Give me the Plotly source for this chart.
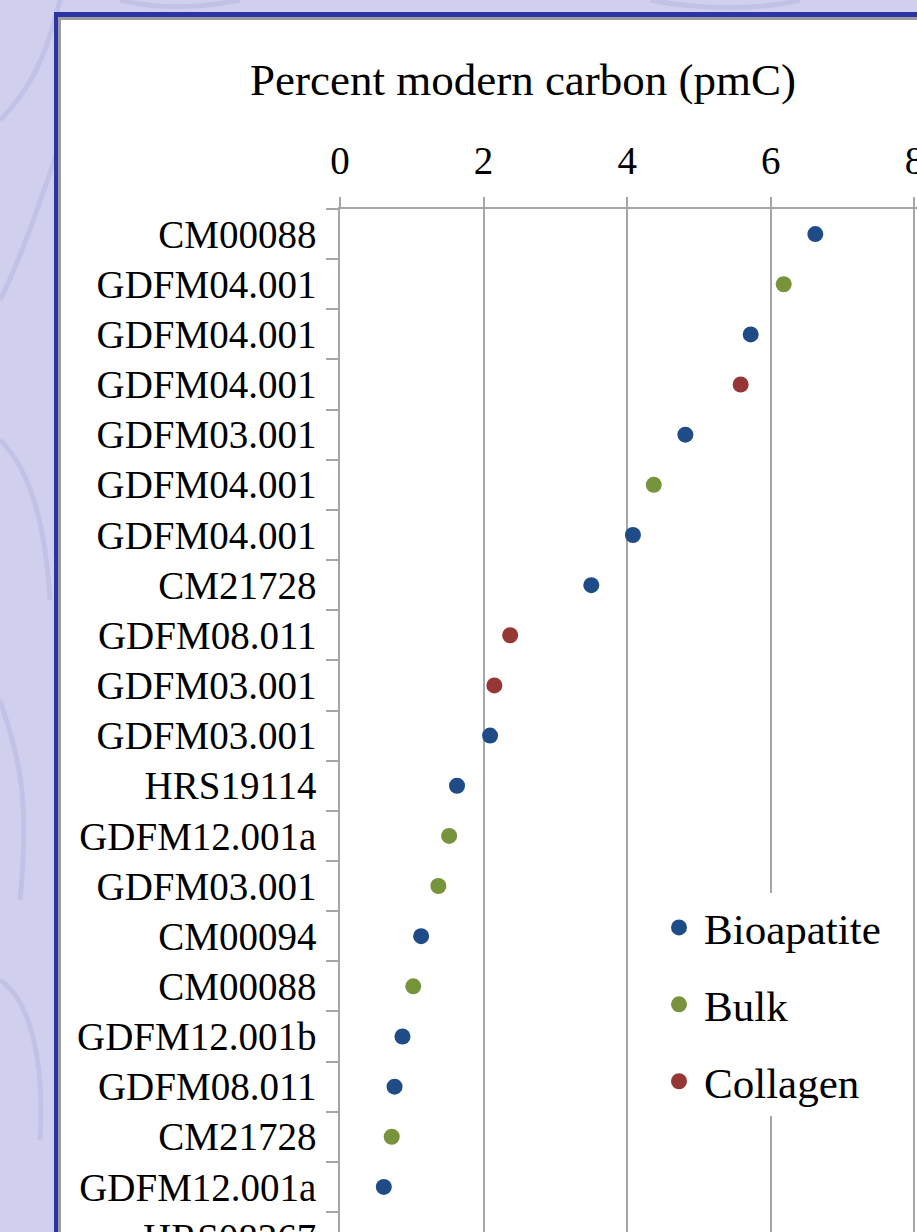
import plotly.graph_objects as go

# ---- data ----
sample_labels = ["CM00088", "GDFM04.001", "GDFM04.001", "GDFM04.001", "GDFM03.001",
                 "GDFM04.001", "GDFM04.001", "CM21728", "GDFM08.011", "GDFM03.001",
                 "GDFM03.001", "HRS19114", "GDFM12.001a", "GDFM03.001", "CM00094",
                 "CM00088", "GDFM12.001b", "GDFM08.011", "CM21728", "GDFM12.001a",
                 "HRS08267"]
pmc_values = [6.62, 6.18, 5.72, 5.58, 4.81, 4.37, 4.08, 3.50, 2.37, 2.15,
              2.09, 1.63, 1.52, 1.37, 1.13, 1.02, 0.87, 0.76, 0.72, 0.61,
              0.57]
sample_types = ["Bioapatite", "Bulk", "Bioapatite", "Collagen", "Bioapatite",
                "Bulk", "Bioapatite", "Bioapatite", "Collagen", "Collagen",
                "Bioapatite", "Bioapatite", "Bulk", "Bulk", "Bioapatite",
                "Bulk", "Bioapatite", "Bioapatite", "Bulk", "Bioapatite",
                "Bioapatite"]
type_order = ["Bioapatite", "Bulk", "Collagen"]
x_tick_values = [0, 2, 4, 6, 8]

# ---- style ----
colors = {"Bioapatite": "#1F4C87", "Bulk": "#77933C", "Collagen": "#953735"}
FONT = "Liberation Serif, Times New Roman, serif"
GRID = "#A6A6A6"
W, H = 917, 1232
L, T = 340, 209
ROW_PX = 50.15
n = len(sample_labels)

fig = go.Figure()
for t in type_order:
    idx = [i for i, ty in enumerate(sample_types) if ty == t]
    fig.add_trace(go.Scatter(
        x=[pmc_values[i] for i in idx], y=idx, mode="markers", name=t,
        legendgroup=t, cliponaxis=False,
        marker=dict(color=colors[t], size=16),
    ))

def px_x(p):
    return (p - L) / (W - L)

def px_y(p):
    return (H - p) / (H - T)

def swirl(d):
    return dict(type="path", xref="paper", yref="paper", path=d,
                line=dict(color="#C2C2E6", width=5), layer="below")

def pp(x, y):
    return f"{px_x(x):.4f},{px_y(y):.4f}"

shapes = [
    # faint background swirls
    swirl(f"M{pp(0, 120)} C{pp(30, 90)} {pp(45, 60)} {pp(60, 0)}"),
    swirl(f"M{pp(0, 300)} C{pp(25, 250)} {pp(40, 200)} {pp(58, 150)}"),
    swirl(f"M{pp(0, 440)} C{pp(30, 470)} {pp(45, 520)} {pp(50, 600)}"),
    swirl(f"M{pp(0, 700)} C{pp(20, 760)} {pp(30, 800)} {pp(20, 900)}"),
    swirl(f"M{pp(0, 980)} C{pp(30, 1000)} {pp(45, 1060)} {pp(40, 1140)}"),
    swirl(f"M{pp(120, 0)} C{pp(160, 10)} {pp(200, 8)} {pp(240, 0)}"),
    swirl(f"M{pp(650, 0)} C{pp(700, 10)} {pp(760, 10)} {pp(800, 0)}"),
    # dark blue frame, grey shadow and white chart area
    dict(type="rect", xref="paper", yref="paper", x0=px_x(54), x1=px_x(W + 20),
         y0=px_y(H + 20), y1=px_y(12), fillcolor="#2B34A6", line=dict(width=0), layer="below"),
    dict(type="rect", xref="paper", yref="paper", x0=px_x(58), x1=px_x(W + 20),
         y0=px_y(H + 20), y1=px_y(17), fillcolor="#9C9C9C", line=dict(width=0), layer="below"),
    dict(type="rect", xref="paper", yref="paper", x0=px_x(61), x1=px_x(W + 20),
         y0=px_y(H + 20), y1=px_y(20), fillcolor="white", line=dict(width=0), layer="below"),
]

annotations = [
    dict(text="Percent modern carbon (pmC)", xref="paper", yref="paper",
         x=px_x(523), y=px_y(80), xanchor="center", yanchor="middle", showarrow=False,
         font=dict(family=FONT, size=45, color="black")),
    # last, partly visible row label (its row sits just below the visible range)
    dict(text=sample_labels[-1], xref="paper", yref="y", x=0, y=n - 1.5,
         yshift=-ROW_PX / 2, xanchor="right", yanchor="middle", xshift=-22,
         showarrow=False, font=dict(family=FONT, size=39, color="black")),
]

fig.update_layout(
    width=W, height=H,
    margin=dict(l=L, r=0, t=T, b=0, pad=0, autoexpand=False),
    paper_bgcolor="#D0D0EE", plot_bgcolor="white",
    shapes=shapes, annotations=annotations,
    showlegend=True,
    legend=dict(x=px_x(654), y=px_y(893), xanchor="left", yanchor="top",
                bgcolor="white", borderwidth=0, tracegroupgap=18, itemwidth=40,
                font=dict(family=FONT, size=43, color="black")),
    xaxis=dict(side="top", range=[0, (W - L) / 71.8], tickmode="array",
               tickvals=x_tick_values, showgrid=True, gridcolor=GRID, gridwidth=1.5,
               showline=True, linecolor=GRID, linewidth=1.5, zeroline=False,
               ticks="outside", ticklen=10, tickcolor=GRID, tickwidth=1.5,
               tickfont=dict(family=FONT, size=39, color="black"),
               ticklabelstandoff=8, ticklabeloverflow="allow"),
    yaxis=dict(range=[(H - T) / ROW_PX - 0.5, -0.5], tickmode="array",
               tickvals=list(range(n)), ticktext=sample_labels, ticks="",
               showgrid=False, zeroline=False, showline=True, linecolor=GRID,
               linewidth=1.5,
               tickfont=dict(family=FONT, size=39, color="black"),
               ticklabelstandoff=14,
               minor=dict(tickmode="array", tickvals=[i - 0.5 for i in range(n + 1)],
                          ticks="outside", ticklen=12, tickcolor=GRID, tickwidth=1.5,
                          showgrid=False)),
)

fig.write_html(
    "out.html",
    config={"displayModeBar": False},
    post_script="document.body.style.margin='0';document.body.style.overflow='hidden';",
)
